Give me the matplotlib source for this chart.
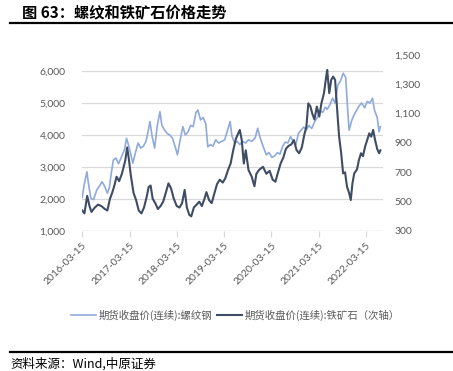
"""Rebar vs iron ore futures price chart (图 63)."""

import matplotlib

matplotlib.use("Agg")
import matplotlib.dates as mdates
import matplotlib.pyplot as plt
import pandas as pd

plt.rcParams["font.family"] = ["Noto Sans CJK SC", "DejaVu Sans"]

# 期货收盘价(连续):螺纹钢 (left axis)
rebar_dates = [
    "2016-03-15", "2016-03-30", "2016-04-20", "2016-05-01", "2016-05-20", "2016-06-10",
    "2016-07-05", "2016-07-25", "2016-08-15", "2016-09-05", "2016-09-25", "2016-10-10",
    "2016-10-25", "2016-11-10", "2016-11-30", "2016-12-20", "2017-01-10", "2017-02-05",
    "2017-02-20", "2017-03-10", "2017-04-10", "2017-04-30", "2017-05-20", "2017-06-10",
    "2017-06-30", "2017-07-20", "2017-08-05", "2017-08-20", "2017-09-05", "2017-09-25",
    "2017-10-15", "2017-11-05", "2017-11-20", "2017-12-10", "2017-12-30", "2018-01-20",
    "2018-02-10", "2018-03-05", "2018-03-20", "2018-04-10", "2018-05-01", "2018-05-20",
    "2018-06-10", "2018-06-30", "2018-07-20", "2018-08-10", "2018-08-25", "2018-09-15",
    "2018-10-05", "2018-10-25", "2018-11-10", "2018-11-30", "2018-12-20", "2019-01-10",
    "2019-02-01", "2019-02-25", "2019-03-20", "2019-04-10", "2019-05-01", "2019-05-15",
    "2019-06-05", "2019-06-25", "2019-07-15", "2019-08-05", "2019-08-30", "2019-09-20",
    "2019-10-15", "2019-11-10", "2019-11-30", "2019-12-20", "2020-01-15", "2020-02-05",
    "2020-02-25", "2020-03-20", "2020-04-10", "2020-05-01", "2020-05-20", "2020-06-10",
    "2020-06-30", "2020-07-20", "2020-08-10", "2020-08-30", "2020-09-20", "2020-10-10",
    "2020-10-30", "2020-11-20", "2020-12-10", "2020-12-30", "2021-01-20", "2021-02-10",
    "2021-03-05", "2021-03-25", "2021-04-15", "2021-05-05", "2021-05-20", "2021-06-10",
    "2021-06-30", "2021-07-20", "2021-08-10", "2021-09-01", "2021-09-20", "2021-10-10",
    "2021-10-25", "2021-11-05", "2021-11-25", "2021-12-10", "2021-12-30", "2022-01-20",
    "2022-02-10", "2022-03-05", "2022-03-25", "2022-04-15", "2022-05-05", "2022-05-20",
    "2022-06-10", "2022-06-25", "2022-07-05",
]
rebar_values = [
    2050, 2450, 2850, 2500, 2030, 1980,
    2280, 2400, 2540, 2390, 2180, 2350,
    2800, 3220, 3280, 3100, 3300, 3550,
    3900, 3650, 3120, 3450, 3750, 3590,
    3650, 3800, 4100, 4420, 3970, 3590,
    4280, 4730, 4300, 4160, 4050, 4000,
    3900, 3600, 3380, 3840, 4260, 4000,
    4100, 4300, 4260, 4700, 4780, 4470,
    4550, 4350, 3630, 3700, 3650, 3850,
    3750, 3800, 3850, 4130, 4420, 3970,
    3750, 3800, 3700, 3800, 3750, 3850,
    3800, 3900, 4210, 3900, 3600, 3380,
    3450, 3300, 3350, 3450, 3400, 3650,
    3780, 3750, 3950, 3800, 3700, 4050,
    4150, 4250, 4160, 4300, 4200, 4400,
    4550, 4780, 4700, 4870, 4800, 4950,
    5150, 5000, 5560, 5700, 5930, 5800,
    4800, 4150, 4450, 4600, 4750, 4900,
    5000, 4850, 5050, 5000, 5150, 4780,
    4550, 4100, 4260,
]

# 期货收盘价(连续):铁矿石 (right axis)
ore_dates = [
    "2016-03-15", "2016-04-01", "2016-04-22", "2016-05-10", "2016-05-25", "2016-06-20",
    "2016-07-15", "2016-08-10", "2016-09-05", "2016-09-25", "2016-10-15", "2016-11-01",
    "2016-11-15", "2016-12-05", "2016-12-25", "2017-01-15", "2017-02-10", "2017-02-25",
    "2017-03-10", "2017-03-25", "2017-04-15", "2017-05-05", "2017-05-25", "2017-06-15",
    "2017-07-05", "2017-07-25", "2017-08-10", "2017-08-25", "2017-09-10", "2017-09-30",
    "2017-10-20", "2017-11-10", "2017-11-30", "2017-12-20", "2018-01-10", "2018-01-30",
    "2018-02-20", "2018-03-15", "2018-04-05", "2018-04-25", "2018-05-15", "2018-06-01",
    "2018-06-20", "2018-07-05", "2018-07-25", "2018-08-15", "2018-09-05", "2018-09-25",
    "2018-10-15", "2018-10-30", "2018-11-20", "2018-12-10", "2018-12-30", "2019-01-20",
    "2019-02-10", "2019-03-05", "2019-03-25", "2019-04-15", "2019-05-05", "2019-05-25",
    "2019-06-15", "2019-07-05", "2019-07-15", "2019-07-30", "2019-08-15", "2019-08-30",
    "2019-09-20", "2019-10-15", "2019-11-05", "2019-11-20", "2019-12-10", "2020-01-10",
    "2020-02-05", "2020-03-01", "2020-03-25", "2020-04-15", "2020-05-05", "2020-05-25",
    "2020-06-15", "2020-07-05", "2020-07-25", "2020-08-15", "2020-09-05", "2020-09-25",
    "2020-10-15", "2020-11-05", "2020-11-25", "2020-12-10", "2020-12-25", "2021-01-10",
    "2021-01-25", "2021-02-10", "2021-03-01", "2021-03-20", "2021-04-05", "2021-04-25",
    "2021-05-12", "2021-05-20", "2021-06-05", "2021-06-20", "2021-07-05", "2021-07-20",
    "2021-08-05", "2021-08-20", "2021-09-05", "2021-09-20", "2021-10-05", "2021-10-20",
    "2021-11-05", "2021-11-18", "2021-12-01", "2021-12-15", "2022-01-05", "2022-01-20",
    "2022-02-05", "2022-02-20", "2022-03-10", "2022-03-25", "2022-04-10", "2022-04-25",
    "2022-05-10", "2022-05-25", "2022-06-10", "2022-06-25", "2022-07-05",
]
ore_values = [
    440, 420, 540, 470, 430, 460,
    480, 470, 450, 440, 520, 560,
    600, 670, 640, 690, 780, 870,
    790, 680, 560, 510, 440, 420,
    460, 530, 600, 610, 520, 490,
    450, 470, 500, 560, 625, 590,
    520, 470, 460, 490, 580, 460,
    410, 400, 460, 480, 500, 470,
    520, 565, 510, 490, 555, 620,
    650, 630, 660, 716, 760, 850,
    930, 970, 989, 920, 760, 850,
    716, 670, 605, 690, 716, 738,
    690, 710, 650, 636, 700, 760,
    800, 860, 880, 890, 920, 852,
    830, 870, 960, 1010, 1170, 1150,
    1100, 1060, 1148, 1080, 1170, 1240,
    1350, 1398, 1240, 1330, 1353, 1330,
    1125, 943, 830, 693, 700, 602,
    560, 511, 625, 693, 720, 784,
    830, 810, 880, 920, 966, 943,
    989, 920, 860, 830, 850,
]

left_ticks = [1000, 2000, 3000, 4000, 5000, 6000]
right_ticks = [300, 500, 700, 900, 1100, 1300, 1500]
date_ticks = ["2016-03-15", "2017-03-15", "2018-03-15", "2019-03-15",
              "2020-03-15", "2021-03-15", "2022-03-15"]

REBAR_COLOR = "#8FAADC"
ORE_COLOR = "#3E4C64"
GRID = "#D9D9D9"
LABEL = "#595959"
NUM_FONT = "Lato"

W, H = 453, 371
fig = plt.figure(figsize=(W / 100, H / 100), dpi=100)

ax = fig.add_axes([82 / W, 140 / H, 301 / W, 176 / H])
ax2 = ax.twinx()

ax.plot(pd.to_datetime(rebar_dates), rebar_values, color=REBAR_COLOR, lw=1.2,
        label="期货收盘价(连续):螺纹钢")
ax2.plot(pd.to_datetime(ore_dates), ore_values, color=ORE_COLOR, lw=1.5,
         label="期货收盘价(连续):铁矿石（次轴）")

ax.set_ylim(1000, 6500)
ax.set_yticks(left_ticks)
ax.set_yticklabels([f"{v:,}" for v in left_ticks], fontsize=7.5, color=LABEL,
                   family=NUM_FONT)
ax2.set_ylim(300, 1500)
ax2.set_yticks(right_ticks)
ax2.set_yticklabels([f"{v:,}" for v in right_ticks], fontsize=7.5, color=LABEL,
                    family=NUM_FONT)

ax.set_xlim(pd.Timestamp("2016-03-13"), pd.Timestamp("2022-07-25"))
ax.set_xticks(pd.to_datetime(date_ticks))
ax.xaxis.set_major_formatter(mdates.DateFormatter("%Y-%m-%d"))
for lbl in ax.get_xticklabels():
    lbl.set_rotation(45)
    lbl.set_ha("right")
    lbl.set_rotation_mode("anchor")
    lbl.set_fontsize(7.5)
    lbl.set_color(LABEL)
    lbl.set_family(NUM_FONT)

ax.grid(axis="y", color=GRID, lw=0.9)
ax.set_axisbelow(True)
for a in (ax, ax2):
    for side in ("top", "left", "right", "bottom"):
        a.spines[side].set_visible(False)
ax.tick_params(axis="y", length=0, pad=12)
ax2.tick_params(axis="y", length=0, pad=8)
ax.tick_params(axis="x", length=4, color=GRID, width=0.9, pad=3)
ax.axhline(1000, color=GRID, lw=0.9, zorder=1)

h1, l1 = ax.get_legend_handles_labels()
h2, l2 = ax2.get_legend_handles_labels()
fig.legend(h1 + h2, l1 + l2, loc="center", bbox_to_anchor=(0.52, 1 - 315 / H),
           ncol=2, frameon=False, fontsize=7.5, labelcolor=LABEL,
           handlelength=2.4, handletextpad=0.3, columnspacing=0.4)

fig.text(22 / W, 1 - 13 / H, "图 63：螺纹和铁矿石价格走势", fontsize=11,
         fontweight="bold", va="center", ha="left")
fig.add_artist(plt.Line2D([10 / W, 1], [1 - 23 / H] * 2, color="black", lw=1.6))
fig.add_artist(plt.Line2D([10 / W, 1], [1 - 352 / H] * 2, color="black", lw=1.6))
fig.text(10 / W, 1 - 364 / H, "资料来源：Wind,中原证券", fontsize=9,
         va="center", ha="left")

fig.savefig("out.png", dpi=100)
